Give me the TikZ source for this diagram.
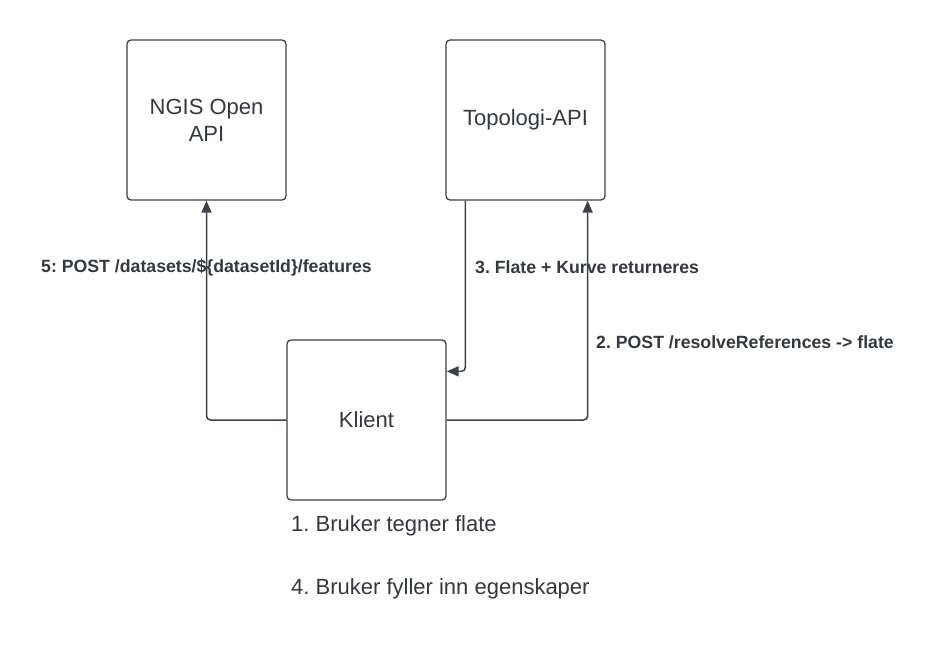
\documentclass[tikz,border=0pt]{standalone}
\usepackage{fontspec}
\setmainfont{Liberation Sans}
\usetikzlibrary{arrows.meta}
\definecolor{linegray}{RGB}{58,65,74}
\definecolor{textgray}{RGB}{51,56,66}
\frenchspacing
\tikzset{
  box/.style={
    draw=linegray,
    line width=1.3pt,
    rounded corners=4pt,
    minimum width=159pt,
    minimum height=160pt,
    inner sep=0pt,
    align=center,
    text=textgray,
    font=\fontsize{22}{27}\selectfont
  },
  link/.style={
    draw=linegray,
    line width=1.5pt,
    rounded corners=4pt,
    -{Triangle[length=12pt,width=10pt]}
  },
  steplabel/.style={anchor=west, inner sep=0pt, text=textgray, font=\bfseries\fontsize{17.7}{20}\selectfont},
  note/.style={anchor=west, inner sep=0pt, text=textgray, font=\fontsize{22}{25}\selectfont}
}

\begin{document}
\begin{tikzpicture}[x=1pt,y=-1pt]
  \useasboundingbox (0,0) rectangle (933,665);
  \fill[white] (0,0) rectangle (933,665);

  % Boxes
  \node[box] (ngis) at (206.5,120) {NGIS Open\\API};
  \node[box] (topo) at (525.5,120) {Topologi-API};
  \node[box] (klient) at (366.5,420) {Klient};

  % Connectors
  \draw[link] (klient.west) -| (ngis.south);
  \draw[link] (klient.east) -| ([xshift=-18pt]topo.south east);
  \draw[link] ([xshift=20pt]topo.south west) |- ([yshift=-32pt]klient.north east);

  % Step labels
  \node[steplabel] (post5) at (41,268) {5: POST /datasets/\$\{datasetId\}/features};
  \node[steplabel] (ret3) at (475,267) {3. Flate + Kurve returneres};
  \node[steplabel] (post2) at (596,342) {2. POST /resolveReferences -> flate};

  % Notes under the client
  \node[note] (note1) at (291,526) {1. Bruker tegner flate};
  \node[note] (note4) at (291,589) {4. Bruker fyller inn egenskaper};
\end{tikzpicture}
\end{document}
